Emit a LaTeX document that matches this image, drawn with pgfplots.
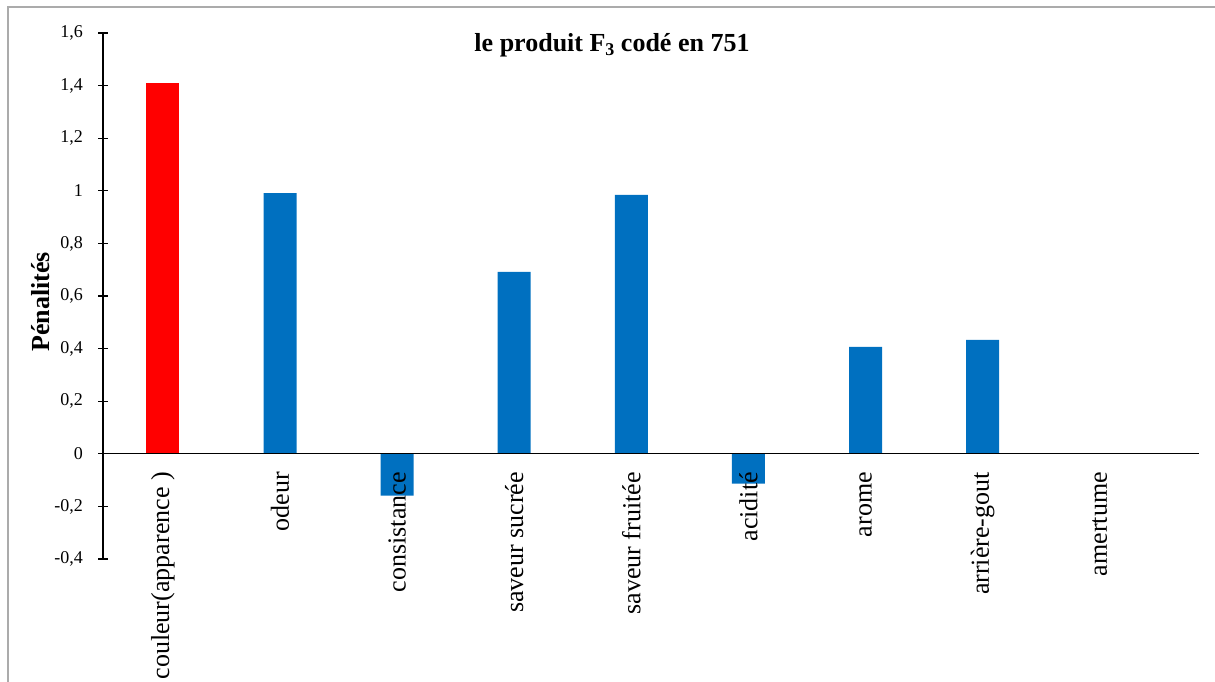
\documentclass[border=0pt]{standalone}
\usepackage{fontspec}
\setmainfont{Liberation Serif}
\usepackage{pgfplots}
\pgfplotsset{compat=1.18}

\definecolor{barblue}{HTML}{0070C0}
\definecolor{barred}{HTML}{FF0000}
\definecolor{framegray}{HTML}{ABABAB}

\begin{document}
\begin{tikzpicture}
  % page area (1 px = 0.5 pt)
  \path[use as bounding box] (0pt,0pt) rectangle (607.5pt,-340.5pt);
  \clip (0pt,0pt) rectangle (607.5pt,-340.5pt);
  % chart frame
  \draw[framegray, line width=1pt] (4pt,-360pt) -- (4pt,-3.5pt) -- (620pt,-3.5pt);

  \begin{axis}[
    at={(51.5pt,-279.5pt)}, anchor=south west,
    scale only axis,
    width=548pt, height=263pt,
    xmin=-0.512, xmax=8.848,
    ymin=-0.4, ymax=1.6,
    ytick={-0.4,-0.2,0,0.2,0.4,0.6,0.8,1,1.2,1.4,1.6},
    axis x line*=middle,
    axis y line*=left,
    axis on top,
    axis line style={black, line width=0.6pt},
    tick align=center,
    major tick length=5pt,
    every tick/.style={black, line width=0.6pt},
    major x tick style={draw=none},
    xtick={0,1,2,3,4,5,6,7,8},
    xticklabels={couleur(apparence ), odeur, consistance, saveur sucrée,
                 saveur fruitée, acidité, arome, arrière-gout, amertume},
    xticklabel style={font=\fontsize{13}{15}\selectfont, rotate=90,
                      anchor=east, inner sep=0pt, inner xsep=4pt},
    yticklabel style={font=\fontsize{9}{11}\selectfont, xshift=-4pt},
    /pgf/number format/use comma,
    /pgf/number format/assume math mode=true,
    ybar,
    bar width=16.5pt,
    clip=false,
  ]
    \addplot[fill=barred, draw=none, bar shift=0pt] coordinates {(0,1.411)};
    \addplot[fill=barblue, draw=none, bar shift=0pt] coordinates {
      (1,0.991) (2,-0.159) (3,0.692) (4,0.985)
      (5,-0.113) (6,0.407) (7,0.433) (8,0)
    };
  \end{axis}

  % title and axis name
  \node[anchor=base, font=\fontsize{13}{15}\selectfont\bfseries]
    at (306pt,-25.5pt) {le produit F\raisebox{-0.35ex}{\fontsize{9}{10}\selectfont 3} codé en 751};
  \node[rotate=90, font=\fontsize{13}{15}\selectfont\bfseries]
    at (20.5pt,-151pt) {Pénalités};
\end{tikzpicture}
\end{document}
